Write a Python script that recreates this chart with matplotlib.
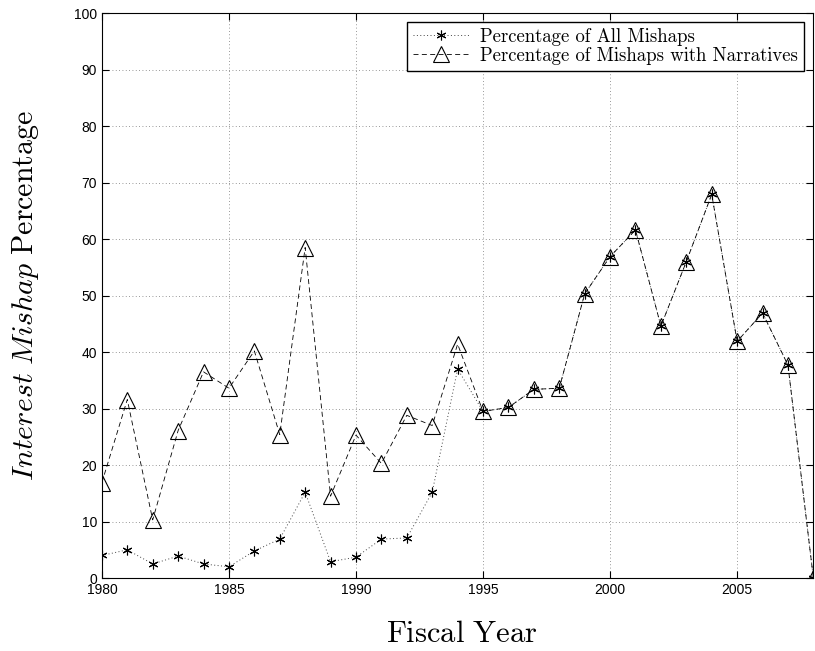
import numpy as np
import matplotlib.pyplot as plt

plt.rcParams['mathtext.fontset'] = 'cm'

years = list(range(1980, 2009))
all_mishaps = [4.0, 5.0, 2.5, 3.9, 2.5, 2.0, 4.8, 6.9, 15.2, 2.9,
               3.7, 6.9, 7.1, 15.2, 37.0, 29.5, 30.2, 33.4, 33.6, 50.3,
               56.9, 61.6, 44.6, 56.0, 67.9, 41.9, 46.9, 37.7, 0.0]
with_narratives = [16.9, 31.6, 10.3, 26.1, 36.5, 33.6, 40.2, 25.4, 58.5, 14.5,
                   25.3, 20.3, 28.8, 27.0, 41.4, 29.5, 30.2, 33.4, 33.6, 50.3,
                   56.9, 61.6, 44.6, 56.0, 67.9, 41.9, 46.9, 37.7, 0.0]

fig = plt.figure(figsize=(8.15, 6.51), dpi=100)
ax = fig.add_axes([0.125, 0.112, 0.873, 0.868])

ax.plot(years, all_mishaps, linestyle=(0, (1, 2.5)), color='#444444', linewidth=0.7,
        marker=(6, 2, 0), markersize=7, markeredgewidth=0.8,
        markeredgecolor='black', label='Percentage of All Mishaps')
ax.plot(years, with_narratives, linestyle=(0, (6, 4)), color='black', linewidth=0.6,
        marker='^', markersize=11, markerfacecolor='none', markeredgewidth=0.8,
        label='Percentage of Mishaps with Narratives')

ax.set_xlim(1980, 2008)
ax.set_ylim(0, 100)
ax.set_xticks(range(1980, 2010, 5))
ax.set_yticks(range(0, 101, 10))
ax.tick_params(direction='in', top=True, right=True, labelsize=10, length=5)
for lbl in ax.get_xticklabels() + ax.get_yticklabels():
    lbl.set_family('Liberation Sans')
ax.grid(True, linestyle=(0, (1, 3)), color='#777777', linewidth=0.6)

ax.set_xlabel(r'$\mathrm{Fiscal\ Year}$', fontsize=22)
ax.set_ylabel(r'$\mathit{Interest\ Mishap}\ \mathrm{Percentage}$', fontsize=21.5)
ax.xaxis.set_label_coords(0.506, -0.072)
ax.yaxis.set_label_coords(-0.086, 0.5)

leg = ax.legend(loc='upper right', prop={'family': 'cmr10', 'size': 13.5},
                fancybox=False, edgecolor='black', framealpha=1,
                borderaxespad=0.5, handlelength=3.0, handletextpad=0.6,
                borderpad=0.3, labelspacing=0.05)
leg.get_frame().set_linewidth(1.0)

fig.savefig('out.png', dpi=100)
